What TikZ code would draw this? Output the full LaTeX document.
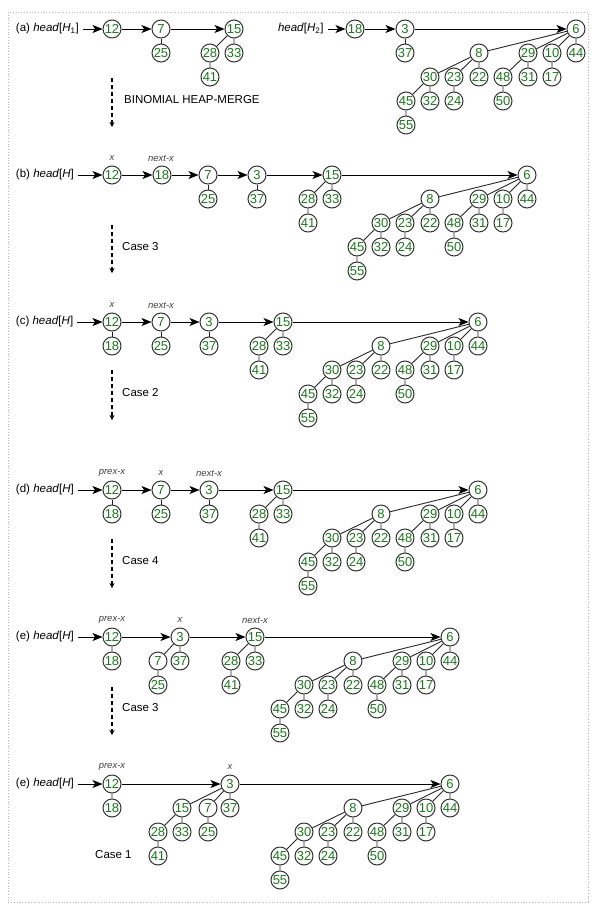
\documentclass[tikz,border=0pt]{standalone}
\usepackage{fontspec}
\setmainfont{Liberation Sans}
\usepackage{xcolor}
\usepackage{tikz}
\usetikzlibrary{arrows.meta}
\definecolor{numgreen}{RGB}{30,120,30}
\tikzset{
hnode/.style={circle,draw=black!80,fill=white,line width=1pt,minimum size=18pt,inner sep=0pt,text=numgreen,font=\fontsize{13}{13}\selectfont},
lbl/.style={anchor=west,inner sep=2pt,outer sep=2pt,font=\fontsize{11.5}{12}\selectfont},
ptr/.style={inner sep=0pt,text=black!75,font=\fontsize{9.5}{10}\selectfont\itshape},
casetxt/.style={anchor=west,inner sep=0pt,font=\fontsize{11.5}{12}\selectfont},
tline/.style={line width=0.9pt,draw=black!85},
nxt/.style={-{Stealth[length=10pt,width=8pt,inset=2.5pt]},line width=1pt},
dasharrow/.style={line width=1.6pt,dash pattern=on 4pt off 3pt,-{Stealth[length=5pt,width=5pt]}}
}
\newcommand{\fifteentree}[3]{%
\begin{scope}[shift={(#2,#3)}]
\node[hnode](#115) at (0,0){15};
\node[hnode](#128) at (-24,24){28};
\node[hnode](#133) at (0,24){33};
\node[hnode](#141) at (-24,48){41};
\draw[tline](#115)--(#128) (#115)--(#133) (#128)--(#141);
\end{scope}}
\newcommand{\sixtree}[3]{%
\begin{scope}[shift={(#2,#3)}]
\node[hnode](#16) at (0,0){6};
\node[hnode](#18) at (-97,24){8};
\node[hnode](#129) at (-48,24){29};
\node[hnode](#110) at (-24,24){10};
\node[hnode](#144) at (0,24){44};
\node[hnode](#130) at (-146,48){30};
\node[hnode](#123) at (-122,48){23};
\node[hnode](#122) at (-97,48){22};
\node[hnode](#148) at (-73,48){48};
\node[hnode](#131) at (-48,48){31};
\node[hnode](#117) at (-24,48){17};
\node[hnode](#145) at (-170,72){45};
\node[hnode](#132) at (-146,72){32};
\node[hnode](#124) at (-122,72){24};
\node[hnode](#150) at (-73,72){50};
\node[hnode](#155) at (-170,96){55};
\draw[tline](#16)--(#18) (#16)--(#129) (#16)--(#110) (#16)--(#144)
(#18)--(#130) (#18)--(#123) (#18)--(#122)
(#129)--(#148) (#129)--(#131) (#110)--(#117)
(#130)--(#145) (#130)--(#132) (#123)--(#124) (#148)--(#150) (#145)--(#155);
\end{scope}}

\begin{document}
\begin{tikzpicture}[x=1pt,y=-1pt]
\useasboundingbox (0,0) rectangle (595,911);
\draw[black!30,dotted,line width=0.8pt](8,12) rectangle (588,902);

\node[lbl](la) at (12,29){(a) \textit{head}[\textit{H}\textsubscript{1}]};
\node[hnode](a12) at (112,29){12};
\node[hnode](a7) at (161,29){7};
\node[hnode](a25) at (161,53){25};
\fifteentree{a}{234}{29}
\node[lbl](lh) at (274,29){\textit{head}[\textit{H}\textsubscript{2}]};
\node[hnode](a18) at (355,29){18};
\node[hnode](a3) at (405,29){3};
\node[hnode](a37) at (405,53){37};
\sixtree{a}{576}{29}
\draw[tline](a7)--(a25) (a3)--(a37);
\draw[nxt](la)--(a12);
\draw[nxt](a12)--(a7);
\draw[nxt](a7)--(a15);
\draw[nxt](lh)--(a18);
\draw[nxt](a18)--(a3);
\draw[nxt](a3)--(a6);
\coordinate(atop) at (112,78);
\coordinate(abot) at (112,127);
\draw[dasharrow](atop)--(abot);
\node[casetxt](acase) at (124,100){BINOMIAL HEAP-MERGE};

\node[lbl](lb) at (12,175){(b) \textit{head}[\textit{H}]};
\node[hnode](b12) at (112,175){12};
\node[hnode](b18) at (162,175){18};
\node[hnode](b7) at (208,175){7};
\node[hnode](b25) at (208,199){25};
\node[hnode](b3) at (257,175){3};
\node[hnode](b37) at (257,199){37};
\fifteentree{b}{332}{175}
\sixtree{b}{527}{175}
\draw[tline](b7)--(b25) (b3)--(b37);
\draw[nxt](lb)--(b12);
\draw[nxt](b12)--(b18);
\draw[nxt](b18)--(b7);
\draw[nxt](b7)--(b3);
\draw[nxt](b3)--(b15);
\draw[nxt](b15)--(b6);
\node[ptr](bx) at (112,158){x};
\node[ptr](bnx) at (161,158){next-x};
\coordinate(btop) at (112,225);
\coordinate(bbot) at (112,273);
\draw[dasharrow](btop)--(bbot);
\node[casetxt](bcase) at (122,247){Case 3};

\node[lbl](lc) at (12,322){(c) \textit{head}[\textit{H}]};
\node[hnode](c12) at (112,322){12};
\node[hnode](c18) at (112,346){18};
\node[hnode](c7) at (161,322){7};
\node[hnode](c25) at (161,346){25};
\node[hnode](c3) at (209,322){3};
\node[hnode](c37) at (209,346){37};
\fifteentree{c}{283}{322}
\sixtree{c}{478}{322}
\draw[tline](c12)--(c18) (c7)--(c25) (c3)--(c37);
\draw[nxt](lc)--(c12);
\draw[nxt](c12)--(c7);
\draw[nxt](c7)--(c3);
\draw[nxt](c3)--(c15);
\draw[nxt](c15)--(c6);
\node[ptr](cx) at (112,305){x};
\node[ptr](cnx) at (161,305){next-x};
\coordinate(ctop) at (112,370);
\coordinate(cbot) at (112,420);
\draw[dasharrow](ctop)--(cbot);
\node[casetxt](ccase) at (122,393){Case 2};

\node[lbl](ld) at (12,490){(d) \textit{head}[\textit{H}]};
\node[hnode](d12) at (112,490){12};
\node[hnode](d18) at (112,514){18};
\node[hnode](d7) at (161,490){7};
\node[hnode](d25) at (161,514){25};
\node[hnode](d3) at (209,490){3};
\node[hnode](d37) at (209,514){37};
\fifteentree{d}{283}{490}
\sixtree{d}{478}{490}
\draw[tline](d12)--(d18) (d7)--(d25) (d3)--(d37);
\draw[nxt](ld)--(d12);
\draw[nxt](d12)--(d7);
\draw[nxt](d7)--(d3);
\draw[nxt](d3)--(d15);
\draw[nxt](d15)--(d6);
\node[ptr](dpx) at (112,473){prex-x};
\node[ptr](dx) at (161,473){x};
\node[ptr](dnx) at (209,473){next-x};
\coordinate(dtop) at (112,539);
\coordinate(dbot) at (112,588);
\draw[dasharrow](dtop)--(dbot);
\node[casetxt](dcase) at (122,561){Case 4};

\node[lbl](le) at (12,637){(e) \textit{head}[\textit{H}]};
\node[hnode](e12) at (112,637){12};
\node[hnode](e18) at (112,661){18};
\node[hnode](e3) at (180,637){3};
\node[hnode](e7) at (158,661){7};
\node[hnode](e37) at (180,661){37};
\node[hnode](e25) at (158,685){25};
\fifteentree{e}{255}{637}
\sixtree{e}{450}{637}
\draw[tline](e12)--(e18) (e3)--(e7) (e3)--(e37) (e7)--(e25);
\draw[nxt](le)--(e12);
\draw[nxt](e12)--(e3);
\draw[nxt](e3)--(e15);
\draw[nxt](e15)--(e6);
\node[ptr](epx) at (112,620){prex-x};
\node[ptr](ex) at (180,620){x};
\node[ptr](enx) at (255,620){next-x};
\coordinate(etop) at (112,687);
\coordinate(ebot) at (112,735);
\draw[dasharrow](etop)--(ebot);
\node[casetxt](ecase) at (122,708){Case 3};

\node[lbl](lf) at (12,784){(e) \textit{head}[\textit{H}]};
\node[hnode](f12) at (112,784){12};
\node[hnode](f18) at (112,808){18};
\node[hnode](f3) at (230,784){3};
\node[hnode](f7) at (208,808){7};
\node[hnode](f37) at (230,808){37};
\node[hnode](f25) at (208,832){25};
\fifteentree{f}{182}{808}
\sixtree{f}{450}{784}
\draw[tline](f12)--(f18) (f3)--(f15) (f3)--(f7) (f3)--(f37) (f7)--(f25);
\draw[nxt](lf)--(f12);
\draw[nxt](f12)--(f3);
\draw[nxt](f3)--(f6);
\node[ptr](fpx) at (112,767){prex-x};
\node[ptr](fx) at (230,767){x};
\node[casetxt](fcase) at (95,855){Case 1};
\end{tikzpicture}
\end{document}
